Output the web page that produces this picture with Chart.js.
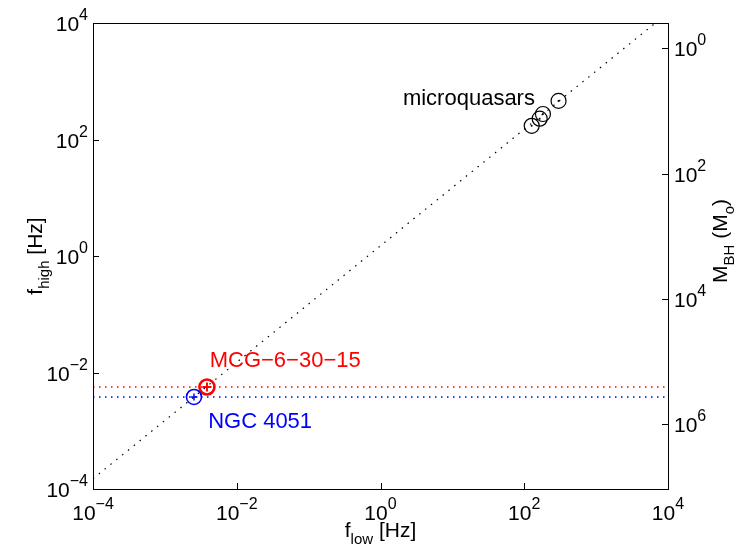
<!DOCTYPE html>
<html>
<head>
<meta charset="utf-8">
<script src="https://cdn.jsdelivr.net/npm/chart.js@4.4.0/dist/chart.umd.min.js"></script>
<style>
  html, body { margin: 0; padding: 0; background: #fff; }
  canvas { display: block; }
</style>
</head>
<body>
<canvas id="chart" width="737" height="550"></canvas>
<script>
// twin QPO frequencies (Hz)
const quasarLow = [127, 164, 182, 300];
const quasarHigh = [172, 228, 274, 460];
const mcgLow = [3.85e-3];
const mcgHigh = [5.64e-3];
const ngcLow = [2.54e-3];
const ngcHigh = [3.8e-3];

// the 3:2 line  f_high = 1.5 f_low
const ratioLow = [1e-4, 1e4];
const ratioHigh = [1.5e-4, 1.5e4];

// axis ticks
const freqTicks = [1e-4, 1e-2, 1, 1e2, 1e4];
const massTicks = [1, 1e2, 1e4, 1e6];
const massRange = [0.395, 1.077e7]; // right axis, top -> bottom

const RED = '#ff0000';
const BLUE = '#0000ff';
const FONT = '"Liberation Sans", Arial, Helvetica, sans-serif';

function pts(xs, ys) {
    return xs.map((x, i) => ({ x: x, y: ys[i] }));
}

// labels inside the plot (data coordinates of the text start / baseline)
const notes = [
    { text: 'microquasars', x: 2.05, y: 391, color: '#000' },
    { text: 'MCG\u22126\u221230\u221215', x: 4.2e-3, y: 1.24e-2, color: RED },
    { text: 'NGC 4051', x: 4.0e-3, y: 1.11e-3, color: BLUE }
];

// draws text made of pieces (base, sub, sup)
function richText(ctx, parts, x, y, align) {
    let total = 0;
    parts.forEach(p => {
        ctx.font = p.size + 'px ' + FONT;
        p.w = ctx.measureText(p.text).width;
        total += p.w;
    });
    let cx = x;
    if (align === 'center') cx = x - total / 2;
    else if (align === 'right') cx = x - total;
    ctx.textAlign = 'left';
    ctx.textBaseline = 'alphabetic';
    parts.forEach(p => {
        ctx.font = p.size + 'px ' + FONT;
        ctx.fillText(p.text, cx, y + (p.dy || 0));
        cx += p.w;
    });
}

function powerParts(v) {
    const e = Math.round(Math.log10(v));
    const es = (e < 0 ? '\u2212' : '') + Math.abs(e);
    return [{ text: '10', size: 21 }, { text: es, size: 16, dy: -11 }];
}

// box, inward ticks, tick labels, axis titles and notes
const axisPlugin = {
    id: 'axisPlugin',
    afterDatasetsDraw(chart) {
        const ctx = chart.ctx;
        const a = chart.chartArea;
        const sx = chart.scales.x, sy = chart.scales.y, sm = chart.scales.mass;
        const tl = 6;
        ctx.save();
        ctx.strokeStyle = '#000';
        ctx.lineWidth = 1;
        ctx.strokeRect(Math.round(a.left) + 0.5, Math.round(a.top) + 0.5,
            Math.round(a.right - a.left), Math.round(a.bottom - a.top));

        ctx.beginPath();
        freqTicks.forEach(v => {
            const px = Math.round(sx.getPixelForValue(v)) + 0.5;
            ctx.moveTo(px, a.bottom); ctx.lineTo(px, a.bottom - tl);
            const py = Math.round(sy.getPixelForValue(v)) + 0.5;
            ctx.moveTo(a.left, py); ctx.lineTo(a.left + tl, py);
        });
        massTicks.forEach(v => {
            const py = Math.round(sm.getPixelForValue(v)) + 0.5;
            ctx.moveTo(a.right, py); ctx.lineTo(a.right - tl, py);
        });
        ctx.stroke();

        ctx.fillStyle = '#000';
        freqTicks.forEach(v => {
            richText(ctx, powerParts(v), sx.getPixelForValue(v), a.bottom + 31, 'center');
            richText(ctx, powerParts(v), a.left - 5, sy.getPixelForValue(v) + 8, 'right');
        });
        massTicks.forEach(v => {
            richText(ctx, powerParts(v), a.right + 6, sm.getPixelForValue(v) + 8, 'left');
        });

        // x title
        richText(ctx, [
            { text: 'f', size: 21 },
            { text: 'low', size: 15, dy: 7 },
            { text: ' [Hz]', size: 21 }
        ], (a.left + a.right) / 2, a.bottom + 48, 'center');

        // left title
        ctx.save();
        ctx.translate(42, (a.top + a.bottom) / 2);
        ctx.rotate(-Math.PI / 2);
        richText(ctx, [
            { text: 'f', size: 21 },
            { text: 'high', size: 15, dy: 7 },
            { text: ' [Hz]', size: 21 }
        ], 0, 0, 'center');
        ctx.restore();

        // right title
        ctx.save();
        ctx.translate(727, 241);
        ctx.rotate(-Math.PI / 2);
        richText(ctx, [
            { text: 'M', size: 21 },
            { text: 'BH', size: 15, dy: 7 },
            { text: ' (M', size: 21 },
            { text: 'o', size: 15, dy: 7 },
            { text: ')', size: 21 }
        ], 0, 0, 'center');
        ctx.restore();

        notes.forEach(n => {
            ctx.fillStyle = n.color;
            richText(ctx, [{ text: n.text, size: 22 }],
                sx.getPixelForValue(n.x), sy.getPixelForValue(n.y), 'left');
        });
        ctx.restore();
    }
};

const lineStyle = {
    showLine: true,
    pointRadius: 0,
    borderWidth: 1.3,
    borderDash: [1.5, 4.5],
    borderCapStyle: 'butt',
    fill: false
};

const circleStyle = {
    showLine: false,
    pointStyle: 'circle',
    pointRadius: 7.5,
    pointBackgroundColor: 'rgba(0,0,0,0)'
};

new Chart(document.getElementById('chart'), {
    type: 'scatter',
    data: {
        datasets: [
            Object.assign({ data: pts(ratioLow, ratioHigh) }, lineStyle, { borderColor: '#000', borderWidth: 1.2, borderDash: [1.5, 6] }),
            Object.assign({ data: pts(ratioLow, [mcgHigh[0], mcgHigh[0]]) }, lineStyle, { borderColor: RED }),
            Object.assign({ data: pts(ratioLow, [ngcHigh[0], ngcHigh[0]]) }, lineStyle, { borderColor: BLUE }),
            Object.assign({ data: pts(quasarLow, quasarHigh), pointBorderColor: '#000', pointBorderWidth: 1.2 }, circleStyle),
            Object.assign({ data: pts(ngcLow, ngcHigh), pointBorderColor: BLUE, pointBorderWidth: 1.6 }, circleStyle),
            Object.assign({ data: pts(mcgLow, mcgHigh), pointBorderColor: RED, pointBorderWidth: 2.6 }, circleStyle),
            // error bars shown as small crosses
            { data: pts(mcgLow, mcgHigh), showLine: false, pointStyle: 'cross', pointRadius: 4.5, pointBorderWidth: 2, pointBorderColor: RED },
            { data: pts(ngcLow, ngcHigh), showLine: false, pointStyle: 'cross', pointRadius: 3.5, pointBorderWidth: 1.5, pointBorderColor: BLUE },
            { data: pts(quasarLow, quasarHigh), showLine: false, pointStyle: 'circle', pointRadius: 1, pointBorderWidth: 0, pointBackgroundColor: '#000' }
        ]
    },
    options: {
        responsive: false,
        animation: false,
        events: [],
        layout: { padding: { left: 93, right: 69, top: 23, bottom: 61 } },
        plugins: {
            legend: { display: false },
            tooltip: { enabled: false }
        },
        scales: {
            x: { type: 'logarithmic', min: 1e-4, max: 1e4, display: false },
            y: { type: 'logarithmic', min: 1e-4, max: 1e4, display: false },
            mass: {
                type: 'logarithmic', position: 'right', reverse: true,
                min: massRange[0], max: massRange[1], display: false
            }
        }
    },
    plugins: [axisPlugin]
});
</script>
</body>
</html>
